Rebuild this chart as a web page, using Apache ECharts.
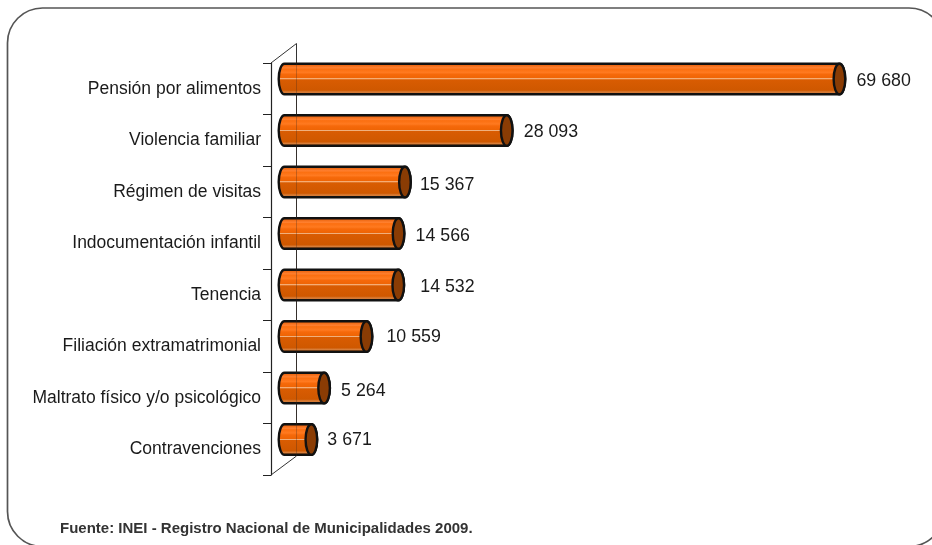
<!DOCTYPE html>
<html><head><meta charset="utf-8">
<style>html,body{margin:0;padding:0;background:#fff}#c{width:932px;height:545px}</style>
<script src="https://cdn.jsdelivr.net/npm/echarts@6/dist/echarts.min.js"></script>
</head><body><div id="c"></div>
<script>
const categories = ["Pensión por alimentos","Violencia familiar","Régimen de visitas","Indocumentación infantil","Tenencia","Filiación extramatrimonial","Maltrato físico y/o psicológico","Contravenciones"];
const values = [69680,28093,15367,14566,14532,10559,5264,3671];
const sourceNote = "Fuente: INEI - Registro Nacional de Municipalidades 2009.";
const FONT = '"Liberation Sans", Arial, sans-serif';
const chart = echarts.init(document.getElementById('c'), null, {renderer:'canvas'});
const fmt = v => String(v).replace(/\B(?=(\d{3})+$)/g,' ');
const dx = 11, dy = -9.7, capRx = 5.8;
const labelShift = [[0,2],[0,2],[-2,3],[0,3],[5,2],[3,1],[0,3],[-1,1]];
const barFill = new echarts.graphic.LinearGradient(0,0,0,1,[
 {offset:0,color:'#c65a10'},{offset:.08,color:'#ee6812'},{offset:.16,color:'#ff8030'},{offset:.2,color:'#fb6f10'},
 {offset:.3,color:'#ff7a20'},{offset:.36,color:'#f6690a'},{offset:.47,color:'#ef6505'},{offset:.49,color:'#f9d0ac'},
 {offset:.52,color:'#d95c02'},{offset:.84,color:'#cf5800'},{offset:.9,color:'#d8813f'},{offset:.94,color:'#c9600f'},{offset:1,color:'#b85208'}]);
function renderBar(params, api){
  const i = api.value(1);
  const end = api.coord([api.value(0), i]);
  const start = api.coord([0, i]);
  const h = 30.5;
  const shift = labelShift[i];
  const x0 = start[0]+dx+2.5, x1 = end[0]+dx, cy = end[1]+dy, t = cy-h/2, b = cy+h/2;
  const body = `M${x0} ${t} L${x1} ${t} A${capRx} ${h/2} 0 0 1 ${x1} ${b} L${x0} ${b} A${capRx} ${h/2} 0 0 1 ${x0} ${t} Z`;
  return {type:'group',children:[
    {type:'path',shape:{pathData:body,x:x0-capRx,y:t,width:x1-x0+2*capRx,height:h,layout:'none'},
     style:{fill:barFill,stroke:'#111',lineWidth:2.4}},
    {type:'ellipse',shape:{cx:x1,cy:cy,rx:capRx,ry:h/2},style:{fill:'#8a3c04',stroke:'#111',lineWidth:2.4}},
    {type:'text',style:{x:x1+17+shift[0],y:cy+shift[1],text:fmt(api.value(0)),font:'17.8px '+FONT,fill:'#1a1a1a',align:'left',verticalAlign:'middle'}}
  ]};
}
chart.setOption({
  animation:false,
  backgroundColor:'#fff',
  grid:{left:271,top:63,width:640,height:412,containLabel:false},
  xAxis:{type:'value',min:0,max:80000,show:false},
  yAxis:{type:'category',inverse:true,data:categories,
    axisLine:{show:true,lineStyle:{color:'#222',width:1.2}},
    axisTick:{show:true,length:8,lineStyle:{color:'#222',width:1}},
    axisLabel:{color:'#1a1a1a',fontFamily:FONT,fontSize:17.5,margin:10,interval:0},
    splitLine:{show:false}},
  series:[{type:'custom',coordinateSystem:'cartesian2d',encode:{x:0,y:1},clip:false,z:3,
    data:values.map((v,i)=>[v,i]),renderItem:renderBar}],
  graphic:[
    {type:'rect',z:-1,shape:{x:7.5,y:8,width:936.5,height:538.5,r:35},style:{fill:'none',stroke:'#555',lineWidth:1.7}},
    {type:'polyline',z:0,shape:{points:[[271,63],[296.5,43.5],[296.5,456],[271,475]]},style:{fill:'none',stroke:'#333',lineWidth:1}},
    {type:'line',z:10,shape:{x1:296.5,y1:60,x2:296.5,y2:456},style:{stroke:'rgba(60,40,30,0.3)',lineWidth:1}},
    {type:'text',z:10,style:{x:60,y:529,text:sourceNote,font:'bold 15px '+FONT,fill:'#333',align:'left',verticalAlign:'middle'}}
  ]
});
</script></body></html>
